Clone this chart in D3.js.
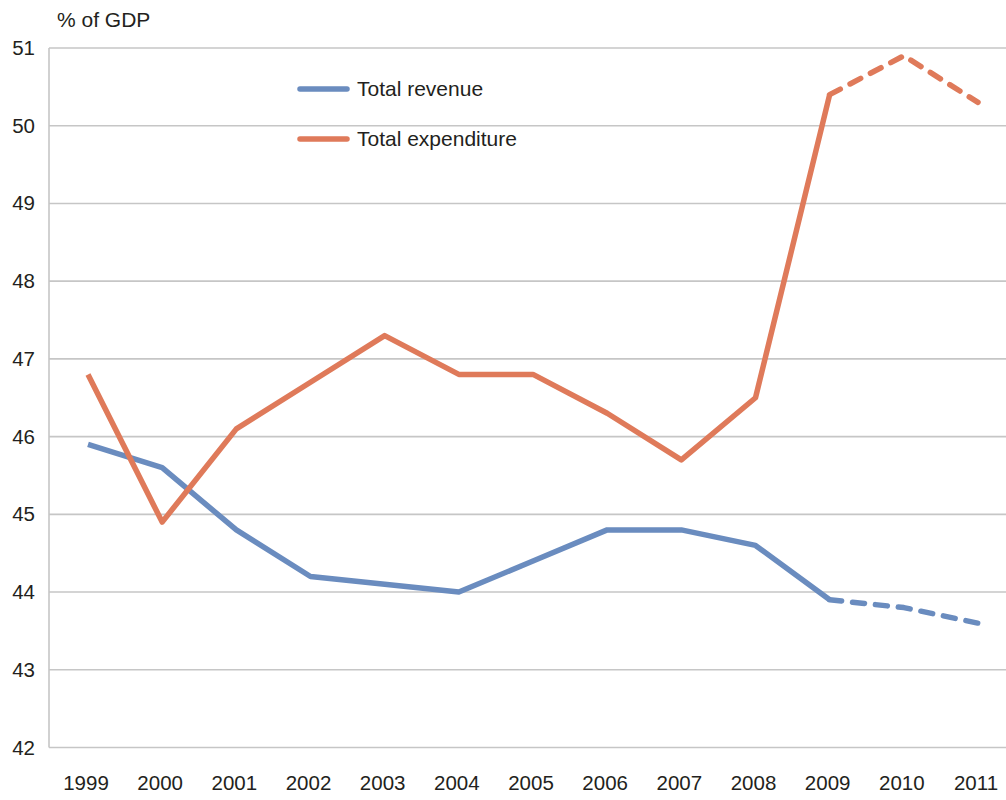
<!DOCTYPE html>
<html><head><meta charset="utf-8">
<script src="https://cdn.jsdelivr.net/npm/d3@7"></script>
<style>body{margin:0;background:#fff}svg{display:block;font-family:"Liberation Sans",Arial,sans-serif}</style>
</head><body><svg id="c" width="1006" height="800"></svg>
<script>
const years = [1999,2000,2001,2002,2003,2004,2005,2006,2007,2008,2009,2010,2011];
const revenue = [45.9,45.6,44.8,44.2,44.1,44.0,44.4,44.8,44.8,44.6,43.9,43.8,43.6];
const expenditure = [46.8,44.9,46.1,46.7,47.3,46.8,46.8,46.3,45.7,46.5,50.4,50.9,50.3];
const yTicks = [42,43,44,45,46,47,48,49,50,51];
const seriesNames = ["Total revenue","Total expenditure"];
const seriesColors = ["#6a8cbf","#df7a5a"];
const projectedFrom = 2009;

const svg = d3.select("#c");
const x = d3.scaleLinear().domain([1999,2011]).range([88,978]);
const y = d3.scaleLinear().domain([42,51]).range([747.5,48]);

svg.append("g").selectAll("line").data(yTicks).join("line")
  .attr("x1",49).attr("x2",1006).attr("y1",d=>y(d)).attr("y2",d=>y(d))
  .attr("stroke","#c6c6c6").attr("stroke-width",1.6);
svg.append("line").attr("x1",49).attr("x2",49).attr("y1",y(51)).attr("y2",y(42))
  .attr("stroke","#c6c6c6").attr("stroke-width",1.6);

svg.append("g").selectAll("text").data(yTicks).join("text")
  .attr("x",35).attr("y",d=>y(d)+7).attr("text-anchor","end")
  .attr("font-size",20.5).attr("fill","#231f20").text(d=>d);
svg.append("g").selectAll("text").data(years).join("text")
  .attr("x",d=>x(d)-2).attr("y",790).attr("text-anchor","middle")
  .attr("font-size",20.5).attr("fill","#231f20").text(d=>d);

svg.append("text").attr("x",57).attr("y",27).attr("font-size",21).attr("fill","#231f20").text("% of GDP");

const line = d3.line().x(d=>x(d[0])).y(d=>y(d[1]));
[revenue,expenditure].forEach((vals,i)=>{
  const pts = years.map((yr,j)=>[yr,vals[j]]);
  const solid = pts.filter(p=>p[0]<=projectedFrom);
  const dashed = pts.filter(p=>p[0]>=projectedFrom);
  svg.append("path").attr("d",line(solid)).attr("fill","none")
    .attr("stroke",seriesColors[i]).attr("stroke-width",5.5).attr("stroke-linejoin","round");
  svg.append("path").attr("d",line(dashed)).attr("fill","none")
    .attr("stroke",seriesColors[i]).attr("stroke-width",5.5).attr("stroke-linejoin","round")
    .attr("stroke-linecap","round").attr("stroke-dasharray","12,11");
});

const lg = svg.append("g");
seriesNames.forEach((n,i)=>{
  const yy = 89 + i*50;
  lg.append("line").attr("x1",300).attr("x2",347).attr("y1",yy).attr("y2",yy)
    .attr("stroke",seriesColors[i]).attr("stroke-width",5.5).attr("stroke-linecap","round");
  lg.append("text").attr("x",357).attr("y",yy+7).attr("font-size",21).attr("fill","#231f20").text(n);
});
</script></body></html>
